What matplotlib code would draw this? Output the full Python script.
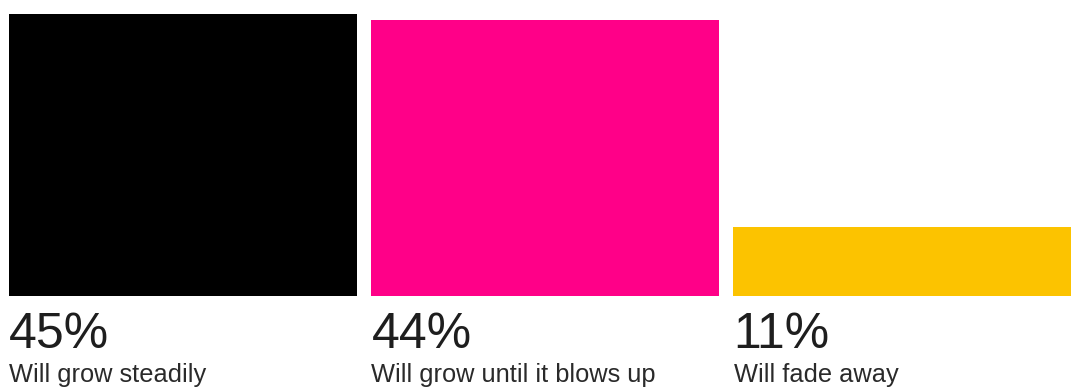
import matplotlib
matplotlib.use("Agg")
import matplotlib.pyplot as plt

# Survey answers and their shares (percent)
categories = ["Will grow steadily", "Will grow until it blows up", "Will fade away"]
shares = [45, 44, 11]
colors = ["#000000", "#FF0088", "#FCC300"]

W, H, DPI = 1071, 389, 100
fig = plt.figure(figsize=(W / DPI, H / DPI), dpi=DPI)
fig.patch.set_facecolor("white")

# axes spanning the full width; bars sit on a baseline near the lower quarter
bottom_px, top_px = 296, 14
ax = fig.add_axes([0, (H - bottom_px) / H, 1, (bottom_px - top_px) / H])
step = 362.25
first_center = 182.75
ax.set_xlim(-first_center / step, (W - first_center) / step)
ax.set_ylim(0, max(shares))
ax.axis("off")

width = 0.962
xs = list(range(len(categories)))
ax.bar(xs, shares, width=width, color=colors, clip_on=False)

font = ["Liberation Sans", "DejaVu Sans"]
for x, share, label in zip(xs, shares, categories):
    left = x - width / 2
    ax.annotate(f"{share}%", xy=(left, 0), xycoords="data",
                xytext=(0.5, -52 * 0.72), textcoords="offset points",
                ha="left", va="baseline", fontsize=36, color="#1e1e1e",
                family=font, annotation_clip=False)
    ax.annotate(label, xy=(left, 0), xycoords="data",
                xytext=(0.5, -86 * 0.72), textcoords="offset points",
                ha="left", va="baseline", fontsize=18.3, color="#2a2a2a",
                family=font, annotation_clip=False)

fig.savefig("out.png", dpi=DPI, facecolor="white")
